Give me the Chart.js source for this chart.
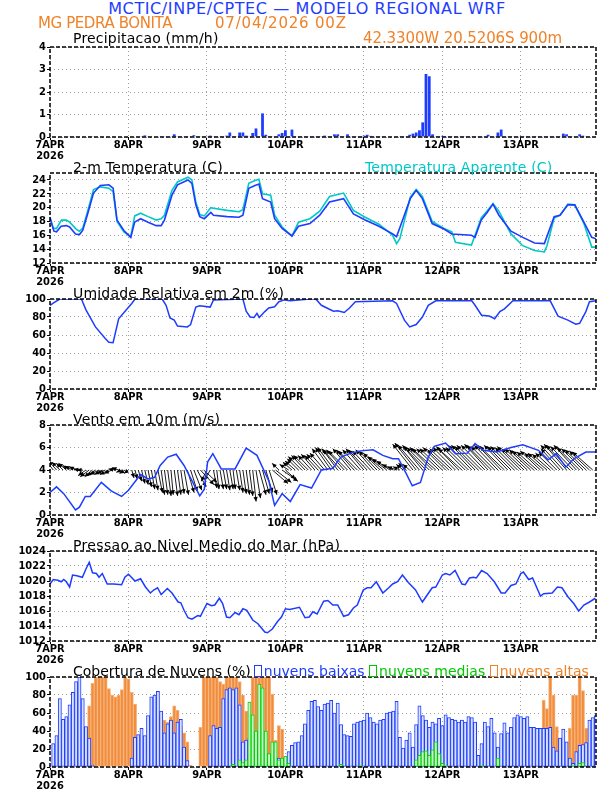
<!DOCTYPE html>
<html>
<head>
<meta charset="utf-8">
<title>Meteograma WRF - MG Pedra Bonita</title>
<script src="https://cdn.jsdelivr.net/npm/chart.js@4.4.1/dist/chart.umd.min.js"></script>
<style>
  body { margin: 0; background: #fff; }
  #pagina { position: relative; width: 612px; height: 792px; overflow: hidden; font-family: "DejaVu Sans", sans-serif; }
  #pagina canvas { position: absolute; left: 0; }
  .txt { position: absolute; white-space: nowrap; font-size: 14px; line-height: 14px; color: #000; letter-spacing: 0.2px; }
  .cab { font-size: 15px; line-height: 15px; }
  .titulo { font-size: 16px; line-height: 16px; letter-spacing: 0.6px; }
  .azul { color: rgb(30,60,255); }
  .laranja { color: rgb(240,130,40); }
  .ciano { color: rgb(0,200,200); }
  .verde { color: rgb(0,200,0); }
  .caixa { display: inline-block; width: 6px; height: 10px; border: 1.5px solid currentColor; margin-right: 2px; vertical-align: -1px; }
</style>
</head>
<body>
<div id="pagina">
  <canvas id="gPrecip" width="612" height="126" style="top:39px"></canvas>
  <canvas id="gTemp" width="612" height="126" style="top:165px"></canvas>
  <canvas id="gUmid" width="612" height="126" style="top:291px"></canvas>
  <canvas id="gVento" width="612" height="126" style="top:417px"></canvas>
  <canvas id="gPressao" width="612" height="126" style="top:543px"></canvas>
  <canvas id="gNuvens" width="612" height="126" style="top:669px"></canvas>

  <div class="txt titulo azul" style="left:0;width:614px;text-align:center;top:1px">MCTIC/INPE/CPTEC — MODELO REGIONAL WRF</div>
  <div class="txt cab laranja" style="left:38px;top:16px;letter-spacing:-0.4px">MG PEDRA BONITA</div>
  <div class="txt cab laranja" style="left:215px;top:16px;letter-spacing:0.8px">07/04/2026 00Z</div>
  <div class="txt cab laranja" style="left:363px;top:31px;letter-spacing:-0.1px">42.3300W 20.5206S 900m</div>
  <div class="txt" style="left:73px;top:31px">Precipitacao (mm/h)</div>
  <div class="txt" style="left:73px;top:160px">2-m Temperatura (C)</div>
  <div class="txt ciano" style="left:365px;top:160px">Temperatura Aparente (C)</div>
  <div class="txt" style="left:73px;top:286px">Umidade Relativa em 2m (%)</div>
  <div class="txt" style="left:73px;top:412px">Vento em 10m (m/s)</div>
  <div class="txt" style="left:73px;top:538px;letter-spacing:0.35px">Pressao ao Nivel Medio do Mar (hPa)</div>
  <div class="txt" style="left:73px;top:664px;letter-spacing:0">Cobertura de Nuvens (%)<span class="azul"><span class="caixa" style="margin-left:3px"></span>nuvens baixas</span> <span class="verde"><span class="caixa"></span>nuvens medias</span> <span class="laranja"><span class="caixa"></span>nuvens altas</span></div>
</div>

<script>
// ---------- dados ----------
const horaMax = 167;
const diasTicks = [0, 24, 48, 72, 96, 120, 144];
const diasLabels = ['7APR', '8APR', '9APR', '10APR', '11APR', '12APR', '13APR'];
const anoLabel = '2026';

// precipitacao horaria (mm/h), hora 0..167
const precip = [
  0,0,0,0,0,0,0.03,0.03,0.03,0,
  0,0,0.03,0.03,0,0,0,0,0,0,
  0,0,0,0,0,0,0,0,0.03,0.07,
  0.03,0,0,0.03,0.03,0.03,0.03,0.03,0.12,0.03,
  0.03,0.03,0.03,0.03,0.08,0.03,0.03,0.03,0.03,0.06,
  0.03,0.03,0.03,0.03,0.06,0.2,0.03,0.03,0.2,0.2,
  0.06,0.03,0.18,0.38,0.03,1.05,0.1,0.03,0.03,0.03,
  0.12,0.18,0.3,0.03,0.33,0.03,0.03,0.03,0.03,0.03,
  0.03,0.03,0.03,0.03,0.06,0.03,0.03,0.12,0.12,0.03,
  0.03,0.12,0.03,0.03,0.03,0.03,0.06,0.1,0.05,0.03,
  0.03,0.03,0.03,0,0,0,0.03,0.03,0.03,0.03,
  0.1,0.15,0.2,0.3,0.65,2.8,2.7,0.12,0.03,0.03,
  0.05,0.03,0.03,0.03,0.03,0.03,0.03,0.03,0.03,0.03,
  0.03,0.03,0.03,0.03,0.1,0.03,0.03,0.2,0.33,0.03,
  0.03,0.03,0.03,0.03,0.03,0.03,0.03,0.03,0.03,0.03,
  0.03,0.03,0.03,0.03,0.03,0.03,0.03,0.15,0.12,0.03,
  0.03,0.03,0.12,0.06,0.03,0,0,0
];
const precipTicks = [0, 1, 2, 3, 4];

// temperatura a 2 m
const tempHoras = [0,1.2,2,3.4,5,6,7.8,9,10,11.4,13.3,15.4,18,19.3,20.5,22.6,24.7,25.9,27.7,30,
  32.5,34,35,37.3,39,42.2,43.4,44.6,45.8,47.2,49.2,50,54.2,57.8,59,60.8,62.7,63.9,65,67.5,
  68.7,71,74,76,79.5,82.5,85.5,89.8,92.8,96.4,100.6,104.8,106,110.2,112,113.9,116.9,120.5,122.9,128.9,
  130,131.9,133.7,135.5,137.3,141,144.6,148.2,151.2,154.2,156,158.4,160.5,163.3,165.7,167];
const tempValores = [18.5,16.6,16.5,17.3,17.4,17.2,16.2,16.1,16.7,18.9,22.1,23.2,23.3,22.8,18.2,16.7,15.7,17.9,18.4,17.9,
  17.4,17.4,18.2,21.8,23.3,24.0,23.5,20.4,18.7,18.4,19.3,18.9,18.7,18.6,18.9,22.8,23.2,23.4,21.3,20.8,
  18.4,17.0,15.9,17.3,17.7,18.9,20.8,21.3,19.1,18.2,17.3,16.2,15.8,21.3,22.5,21.3,17.7,16.9,16.2,16.0,
  15.7,18.2,19.3,20.5,18.9,16.6,15.7,14.9,14.8,18.7,18.9,20.4,20.4,17.9,15.7,15.5];

// temperatura aparente
const aparHoras = [0,1,2,3.5,5,6,8,9,10,11.4,13.3,15.4,18,19.3,20.5,22.6,24.7,25.9,27.7,30,
  32.5,34,35,37.3,39,42.2,43.4,44.6,45.8,47.2,49.2,50,54.2,57.8,59,60.8,62.7,63.9,65,67.5,
  68.7,71,74,76,79.5,82.5,85.5,89.8,92.8,96.4,100.6,104.8,106,107,110.2,112,113.9,116.9,120.5,122.9,
  124,128.9,130,131.9,133.7,135.5,137.3,141,144.6,148.2,151.2,152,154.2,156,158.4,160.5,163.3,165.7,167];
const aparValores = [18.6,17.0,17.0,18.2,18.2,17.9,16.9,16.6,17.0,19.3,22.6,23.0,22.8,22.3,18.0,16.5,15.8,18.8,19.2,18.7,
  18.2,18.4,18.9,22.5,23.7,24.4,24.0,20.8,19.0,18.8,20.0,19.9,19.6,19.4,19.7,23.5,23.9,24.1,22.0,21.8,
  18.9,17.2,15.9,17.9,18.4,19.5,21.6,22.1,19.6,18.6,17.6,16.0,14.8,15.5,21.5,22.6,21.6,18.0,17.0,16.5,
  15.0,14.6,16.0,18.5,19.5,20.6,19.5,16.2,14.5,13.8,13.6,14.5,18.5,18.9,20.5,20.4,17.7,14.3,14.3];
const tempTicks = [12, 14, 16, 18, 20, 22, 24];

// umidade relativa
const umidHoras = [0,1.2,3,9.6,11,13.9,16.9,18,19.3,21,22.9,25,26,34.3,35.5,36.7,38,39,42,43,
  44.6,45.8,49,50,59,60,61.2,62.4,63.3,64,65.7,66.9,68.7,70,71.7,73.5,79.5,81.3,83,85,
  86.7,88,90,91.6,93.4,104.8,106,108.4,110,112,113.9,115.7,118,129,130,132,134.3,135,136,137.6,
  139,141.6,153,155.4,158.4,160.8,162,163.9,165,167];
const umidValores = [93,96,100,100,88,69,56,52,51.5,78,86,95,100,100,93,79,76.5,70,69,71.6,
  91,92.5,91,99,100,86.5,80,79.5,84,79.5,86,90,91.4,97,99,98,100,100,93,89.5,
  86.5,87,85,90,97,98,95,76.5,69,71.6,80,93,98,98,93,82,81,80,78,86,
  89,98,98,81,76.5,72,73,86,97,98];
const umidTicks = [0, 20, 40, 60, 80, 100];

// velocidade do vento a 10 m
const ventoHoras = [0,2,4.2,7.8,9,10.8,12.3,15.7,18.7,21.9,24,27.7,30,32,33.7,36,38.6,41,43.4,45.8,
  47.2,48.2,49.8,52.4,56.6,60,63.3,66.9,68.7,71,73.5,76.5,80,83,86.5,89,92,95,98.8,101.8,
  104.8,106.6,109,110.8,113.3,115.7,117.5,121,124,127.7,130,132.5,136.7,141,144.6,149.4,152.4,154.8,157.8,160.2,
  163.9,167];
const ventoValores = [2.0,2.5,1.9,0.45,0.7,1.65,1.65,2.9,2.15,1.65,2.2,3.6,3.2,3.35,4.4,5.15,5.4,4.4,3.05,1.7,
  2.3,4.7,5.45,4.1,4.1,5.95,5.3,3.05,0.85,1.9,1.2,2.7,2.4,4.0,4.15,5.15,5.5,5.7,5.8,5.3,
  5.0,5.0,3.65,2.6,2.9,5.15,6.1,6.4,5.45,5.5,6.35,5.75,5.6,6.0,6.25,5.75,4.9,5.45,4.25,5.0,
  5.6,5.6];
const ventoTicks = [0, 2, 4, 6, 8];
// vetores horarios (componentes u, v), hora 0..166, desenhados a partir da linha 4
const ventoBase = 4;
const ventoU = [
  -0.7,-0.7,-0.7,-0.7,-0.6,-0.7,-0.6,-0.7,-0.6,-0.5,
  -0.5,-0.7,-0.8,-0.7,-0.8,-0.8,-0.7,-0.8,-0.8,-0.7,
  -0.6,-0.6,-0.5,-0.5,-0.4,0.2,0.2,0.3,0.3,0.3,
  0.3,0.3,0.3,0.4,0.3,0.3,0.3,0.2,0.3,0.3,
  0.3,0.4,0.6,0.6,0.7,0.8,1.2,1.2,-0.5,-0.5,
  0.3,0.2,0.3,0.3,0.3,0.3,0.2,0.3,0.3,0.3,
  0.3,0.3,0.3,0.4,0.6,0.6,0.6,0.7,1.4,1.4,
  -0.6,1.4,0.9,-0.8,-0.8,-0.9,-1.0,-1.2,-1.2,-1.3,
  -1.2,-1.2,-1.2,-1.3,-1.3,-1.4,-1.4,-1.5,-1.4,-1.6,
  -1.6,-1.7,-1.6,-1.6,-1.7,-1.6,-1.6,-1.7,-1.6,-1.6,
  -1.6,-1.5,-1.4,-1.3,-1.2,-1.0,-0.8,-0.6,-0.6,-0.7,
  -0.6,-1.8,-1.9,-1.9,-1.8,-2.0,-2.0,-2.0,-2.1,-2.0,
  -2.0,-2.0,-1.9,-2.0,-2.0,-2.0,-2.1,-2.0,-2.0,-2.1,
  -2.1,-2.1,-2.2,-2.1,-2.1,-2.2,-2.1,-2.1,-2.1,-2.2,
  -2.1,-2.1,-2.1,-2.0,-2.1,-2.0,-2.0,-1.9,-1.9,-1.8,
  -1.8,-1.7,-1.7,-1.6,-1.6,-1.6,-1.7,-2.0,-2.0,-2.1,
  -2.0,-2.0,-2.0,-1.9,-1.9,-1.8,-1.8
];
const ventoV = [
  0.9,0.9,0.8,0.7,0.6,0.6,0.4,0.35,0.3,0.1,
  0.0,-0.5,-0.6,-0.6,-0.5,-0.4,-0.4,-0.3,-0.4,-0.3,
  0.1,0.2,-0.2,-0.3,-0.3,-0.7,-0.8,-1.0,-1.2,-1.3,
  -1.5,-1.7,-1.8,-2.0,-2.2,-2.2,-2.3,-2.2,-2.3,-2.2,
  -2.1,-2.2,-2.0,-1.9,-1.8,-1.5,-1.3,-1.1,-1.0,-0.9,
  -1.6,-1.7,-1.7,-1.7,-1.8,-1.7,-1.7,-1.8,-2.0,-2.1,
  -2.2,-2.3,-2.8,-2.5,-2.2,-2.1,-2.0,-2.2,-1.2,-1.1,
  0.6,-1.0,-0.8,0.5,0.7,0.8,1.0,1.2,1.3,1.3,
  1.3,1.4,1.3,1.4,1.5,1.9,2.0,2.0,1.9,1.8,
  1.8,1.7,1.9,1.8,1.7,1.8,1.9,1.8,1.7,1.8,
  1.7,1.5,1.2,1.0,0.8,0.5,0.3,0.3,0.5,0.6,
  0.5,2.3,2.4,2.2,2.2,2.1,2.0,2.0,1.9,1.9,
  1.9,2.0,1.8,1.9,2.0,2.1,1.9,2.0,2.0,2.2,
  2.2,2.1,2.2,2.2,2.3,2.2,2.1,2.2,2.2,2.1,
  2.2,2.1,2.1,2.0,2.1,1.9,1.9,1.8,1.7,1.6,
  1.7,1.5,1.5,1.4,1.5,1.6,1.9,2.2,2.3,2.2,
  2.1,2.2,2.0,1.9,1.8,1.7,1.6
];

// pressao ao nivel medio do mar
const pressHoras = [0,1,2.4,3.4,4.2,5,6,6.9,8.2,9.9,11,12,13,14.2,15,16,17.5,19.5,21.9,22.9,
  24,26,27.7,29.2,30.7,31.7,32.9,34,35.9,37.3,39.2,40,41,42.2,43.4,45.2,46,48,49.4,50.4,
  51.8,52.8,54,55,56.6,57.8,59,60.2,62,63.6,65.7,66.5,68,69.6,70.8,72,73.3,76.3,78,79.3,
  80.4,81.7,83.7,85,86.5,88,89.8,91.3,92.8,94,95.8,97,98.2,99.8,101.8,103.6,104.8,106.3,107.8,109.6,
  111.8,113.9,115,116.9,118,120,121,122.3,123.9,126,127,128.3,129.5,130.4,132,133.7,135.9,138,139.2,141,
  142.5,144,144.8,146.4,147.6,149,150,151,153.6,155.2,156.6,158.4,160.2,161.7,163.3,165,166.8];
const pressValores = [1019.6,1020.2,1020.1,1019.9,1020.2,1019.9,1019.2,1020.8,1020.7,1020.5,1021.6,1022.5,1021.1,1021.0,1020.5,1021.0,1019.6,1019.6,1019.5,1020.5,
  1020.9,1020.0,1020.3,1019.2,1018.4,1018.8,1019.1,1018.2,1019.0,1018.4,1017.2,1017.1,1016.1,1015.1,1014.9,1015.4,1015.3,1017.0,1016.7,1016.8,
  1017.7,1017.0,1015.2,1015.1,1015.8,1015.5,1016.3,1016.1,1014.8,1014.3,1013.2,1013.1,1013.6,1014.6,1015.2,1016.3,1016.2,1016.5,1015.1,1015.2,
  1015.9,1015.6,1017.3,1017.4,1016.8,1016.8,1015.3,1015.5,1016.4,1016.8,1018.8,1019.1,1019.1,1019.9,1018.4,1019.1,1019.6,1019.9,1020.8,1019.8,
  1018.8,1017.2,1017.9,1019.1,1019.2,1020.8,1021.0,1020.8,1021.4,1019.6,1019.5,1020.4,1020.5,1020.4,1021.4,1021.0,1019.9,1018.4,1018.4,1019.4,
  1019.6,1021.0,1021.2,1020.2,1020.4,1019.0,1018.0,1018.3,1018.4,1019.2,1019.1,1017.9,1017.0,1016.0,1016.8,1017.2,1017.7];
const pressTicks = [1012, 1014, 1016, 1018, 1020, 1022, 1024];

// cobertura de nuvens (%), hora 0..167
const nuvensBaixas = [
  0,26,35,76,53,56,69,83,95,100,
  76,45,32,2,0,0,0,0,0,0,
  0,0,0,1,0,10,33,36,43,35,
  57,78,80,84,62,38,48,52,38,50,
  53,22,7,0,0,0,0,0,0,35,
  46,43,44,76,86,88,86,88,69,28,
  30,32,13,25,40,18,15,5,8,2,
  10,5,10,17,24,27,28,35,48,63,
  73,74,67,63,70,71,74,60,71,47,
  36,35,34,48,50,51,52,60,55,50,
  48,52,53,60,61,62,73,33,21,30,
  38,22,47,68,57,52,44,50,48,54,
  46,58,55,53,52,50,52,50,56,55,
  50,13,26,50,45,54,38,22,37,49,
  38,44,55,58,56,54,56,44,44,43,
  43,43,43,44,22,18,32,42,28,10,
  4,17,24,25,27,52,55,57
];
const nuvensMedias = [
  0,0,0,0,0,0,0,0,0,0,
  0,0,0,0,0,0,0,0,0,0,
  0,0,0,0,0,0,0,0,0,0,
  0,0,0,0,0,0,0,0,0,0,
  0,0,0,0,0,0,0,0,0,0,
  0,0,0,0,0,0,3,0,8,5,
  8,72,58,40,92,88,40,15,28,28,
  8,10,12,4,0,0,0,0,0,0,
  0,0,0,0,0,0,0,0,0,3,
  0,0,0,0,0,2,0,0,0,0,
  0,0,0,0,0,0,0,0,0,0,
  0,0,8,13,17,18,13,19,28,15,
  4,2,0,0,0,0,0,0,0,0,
  0,0,2,0,0,0,0,10,0,0,
  0,0,0,0,0,0,0,0,0,0,
  0,0,0,0,0,0,0,0,0,0,
  2,0,4,5,0,0,0,0
];
const nuvensAltas = [
  0,0,0,0,0,0,0,0,0,0,
  0,28,68,93,100,100,100,100,87,80,
  78,80,86,100,98,83,70,35,5,0,
  0,52,58,58,55,52,50,56,68,63,
  45,38,28,2,0,0,44,100,100,100,
  100,100,95,92,100,100,100,100,95,80,
  62,34,100,100,100,100,100,100,81,30,
  46,42,0,0,0,0,0,0,0,0,
  0,0,0,0,0,0,0,0,0,0,
  0,0,0,0,0,0,0,0,0,0,
  0,0,0,0,0,0,0,0,0,0,
  0,0,0,0,0,0,0,0,0,0,
  0,0,0,0,0,0,0,0,0,0,
  0,0,0,0,0,0,0,0,0,0,
  0,0,0,0,0,0,0,0,0,0,
  0,74,65,100,80,45,0,0,0,43,
  80,80,100,85,43,0,0,0
];
const nuvensTicks = [0, 20, 40, 60, 80, 100];

// ---------- estilo ----------
const azul = 'rgb(30,60,255)';
const ciano = 'rgb(0,200,200)';
const fonteTicks = { family: "'DejaVu Sans Condensed','DejaVu Sans',sans-serif", size: 11, weight: 'bold', lineHeight: 0.95 };

const pontos = (horas, valores) => horas.map((h, i) => ({ x: h, y: valores[i] }));
const porHora = valores => valores.map((v, i) => ({ x: i, y: v > 0 ? v : null }));

// moldura tracejada em volta da area do grafico
const moldura = {
  id: 'moldura',
  afterDraw(chart) {
    const { ctx, chartArea: a } = chart;
    ctx.save();
    ctx.strokeStyle = '#000';
    ctx.lineWidth = 1.5;
    ctx.setLineDash([4, 2]);
    ctx.strokeRect(a.left, a.top, a.right - a.left, a.bottom - a.top);
    ctx.restore();
  }
};

// setas do vento partindo da linha base
const setasVento = {
  id: 'setasVento',
  beforeDatasetsDraw(chart) {
    const { ctx, chartArea: a, scales } = chart;
    const pxPorUnidade = scales.y.getPixelForValue(0) - scales.y.getPixelForValue(1);
    ctx.save();
    ctx.beginPath();
    ctx.rect(a.left, a.top, a.right - a.left, a.bottom - a.top);
    ctx.clip();
    ctx.strokeStyle = '#000';
    ctx.fillStyle = '#000';
    ctx.lineWidth = 0.9;
    for (let i = 0; i < ventoU.length; i++) {
      const x0 = scales.x.getPixelForValue(i);
      const y0 = scales.y.getPixelForValue(ventoBase);
      const x1 = x0 + ventoU[i] * pxPorUnidade;
      const y1 = scales.y.getPixelForValue(ventoBase + ventoV[i]);
      ctx.beginPath();
      ctx.moveTo(x0, y0);
      ctx.lineTo(x1, y1);
      ctx.stroke();
      const ang = Math.atan2(y1 - y0, x1 - x0);
      const L = 5;
      ctx.beginPath();
      ctx.moveTo(x1, y1);
      ctx.lineTo(x1 - L * Math.cos(ang - 0.45), y1 - L * Math.sin(ang - 0.45));
      ctx.lineTo(x1 - L * Math.cos(ang + 0.45), y1 - L * Math.sin(ang + 0.45));
      ctx.closePath();
      ctx.fill();
    }
    ctx.restore();
  }
};

function opcoes(yMin, yMax, yTicks) {
  const grade = { color: '#a0a0a0', lineWidth: 1, tickLength: 3, tickColor: '#000', tickWidth: 1, offset: false };
  return {
    responsive: false,
    animation: false,
    layout: { padding: { top: 8, right: 16, left: 0, bottom: 0 } },
    plugins: { legend: { display: false }, tooltip: { enabled: false } },
    datasets: { bar: { barPercentage: 1, categoryPercentage: 1, grouped: false } },
    scales: {
      x: {
        type: 'linear', min: 0, max: horaMax, offset: false,
        afterBuildTicks: s => { s.ticks = diasTicks.map(v => ({ value: v })); },
        afterFit: s => { s.height = 28; },
        ticks: {
          font: fonteTicks, color: '#000', padding: 0, maxRotation: 0, autoSkip: false,
          callback: v => v === 0 ? [diasLabels[0], anoLabel] : diasLabels[diasTicks.indexOf(v)]
        },
        grid: grade,
        border: { display: false, dash: [1, 3] }
      },
      y: {
        min: yMin, max: yMax,
        afterBuildTicks: s => { s.ticks = yTicks.map(v => ({ value: v })); },
        afterFit: s => { s.width = 50; },
        ticks: { font: fonteTicks, color: '#000', padding: 1, callback: v => String(v) },
        grid: grade,
        border: { display: false, dash: [1, 3] }
      }
    }
  };
}

// ---------- graficos ----------
new Chart(document.getElementById('gPrecip'), {
  type: 'bar',
  data: { datasets: [{ data: porHora(precip), backgroundColor: azul, categoryPercentage: 0.85 }] },
  options: opcoes(0, 4, precipTicks),
  plugins: [moldura]
});

new Chart(document.getElementById('gTemp'), {
  type: 'line',
  data: { datasets: [
    { data: pontos(tempHoras, tempValores), borderColor: azul, borderWidth: 1.6, pointRadius: 0, order: 1 },
    { data: pontos(aparHoras, aparValores), borderColor: ciano, borderWidth: 1.6, pointRadius: 0, order: 2 }
  ] },
  options: opcoes(12, 25, tempTicks),
  plugins: [moldura]
});

new Chart(document.getElementById('gUmid'), {
  type: 'line',
  data: { datasets: [{ data: pontos(umidHoras, umidValores), borderColor: azul, borderWidth: 1.5, pointRadius: 0 }] },
  options: opcoes(0, 100, umidTicks),
  plugins: [moldura]
});

new Chart(document.getElementById('gVento'), {
  type: 'line',
  data: { datasets: [{ data: pontos(ventoHoras, ventoValores), borderColor: azul, borderWidth: 1.5, pointRadius: 0 }] },
  options: opcoes(0, 8, ventoTicks),
  plugins: [setasVento, moldura]
});

new Chart(document.getElementById('gPressao'), {
  type: 'line',
  data: { datasets: [{ data: pontos(pressHoras, pressValores), borderColor: azul, borderWidth: 1.5, pointRadius: 0 }] },
  options: opcoes(1012, 1024, pressTicks),
  plugins: [moldura]
});

new Chart(document.getElementById('gNuvens'), {
  type: 'bar',
  data: { datasets: [
    { data: porHora(nuvensMedias), backgroundColor: 'rgb(205,245,205)', borderColor: 'rgb(0,210,0)', borderWidth: 1, borderSkipped: false, order: 1 },
    { data: porHora(nuvensBaixas), backgroundColor: 'rgb(215,225,255)', borderColor: azul, borderWidth: 1, borderSkipped: false, order: 2 },
    { data: porHora(nuvensAltas), backgroundColor: 'rgb(240,140,60)', borderColor: 'rgb(248,178,120)', borderWidth: 1, borderSkipped: false, order: 3 }
  ] },
  options: opcoes(0, 100, nuvensTicks),
  plugins: [moldura]
});
</script>
</body>
</html>
